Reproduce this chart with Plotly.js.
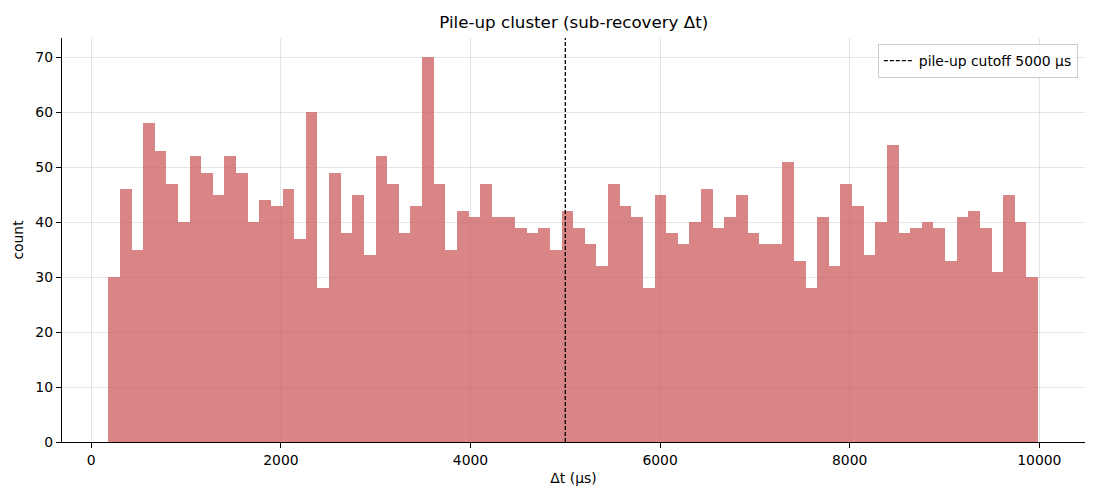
<!DOCTYPE html>
<html>
<head>
<meta charset="utf-8">
<script src="https://cdn.plot.ly/plotly-3.0.1.min.js"></script>
<style>
  html, body { margin: 0; padding: 0; background: #fff; }
  #chart { width: 1100px; height: 500px; }
</style>
</head>
<body>
<div id="chart"></div>
<script>
// Histogram of sub-recovery dt, 80 equal bins
var binStart = 179;       // left edge of first bin (μs)
var binWidth = 122.6;     // bin width (μs)
var counts = [
  30, 46, 35, 58, 53, 47, 40, 52, 49, 45,
  52, 49, 40, 44, 43, 46, 37, 60, 28, 49,
  38, 45, 34, 52, 47, 38, 43, 70, 47, 35,
  42, 41, 47, 41, 41, 39, 38, 39, 35, 42,
  39, 36, 32, 47, 43, 41, 28, 45, 38, 36,
  40, 46, 39, 41, 45, 38, 36, 36, 51, 33,
  28, 41, 32, 47, 43, 34, 40, 54, 38, 39,
  40, 39, 33, 41, 42, 39, 31, 45, 40, 30
];
var cutoff = 5000;
var xTicks = [0, 2000, 4000, 6000, 8000, 10000];
var yTicks = [0, 10, 20, 30, 40, 50, 60, 70];

var centers = counts.map(function(c, i) { return binStart + (i + 0.5) * binWidth; });

var font = 'DejaVu Sans, sans-serif';

var bars = {
  type: 'bar',
  x: centers,
  y: counts,
  width: binWidth,
  marker: { color: 'rgba(205,92,92,0.75)', line: { width: 0 } },
  showlegend: false,
  hoverinfo: 'x+y'
};

var layout = {
  width: 1100,
  height: 500,
  margin: { l: 62, r: 15, t: 38, b: 58 },
  paper_bgcolor: '#fff',
  plot_bgcolor: '#fff',
  font: { family: font, size: 13.9, color: '#000' },
  bargap: 0,
  title: {
    text: 'Pile-up cluster (sub-recovery Δt)',
    font: { family: font, size: 16.7, color: '#000' },
    x: 0.5216, xanchor: 'center',
    y: 0.955, yanchor: 'middle'
  },
  xaxis: {
    range: [-309, 10482],
    tickvals: xTicks,
    ticktext: xTicks.map(String),
    ticks: 'outside', ticklen: 5, tickwidth: 1, tickcolor: '#000',
    showline: true, linecolor: '#000', linewidth: 1.2,
    showgrid: true, gridcolor: 'rgba(0,0,0,0.1)', gridwidth: 1,
    zeroline: false,
    title: { text: 'Δt (μs)', font: { family: font, size: 13.9 }, standoff: 6 }
  },
  yaxis: {
    range: [0, 73.5],
    tickvals: yTicks,
    ticks: 'outside', ticklen: 5, tickwidth: 1, tickcolor: '#000',
    showline: true, linecolor: '#000', linewidth: 1.2,
    showgrid: true, gridcolor: 'rgba(0,0,0,0.1)', gridwidth: 1,
    zeroline: false,
    title: { text: 'count', font: { family: font, size: 13.9 }, standoff: 8 }
  },
  shapes: [{
    type: 'line',
    xref: 'x', yref: 'paper',
    x0: cutoff, x1: cutoff, y0: 0, y1: 1,
    line: { color: '#000', width: 1.3, dash: '4px,2px' },
    showlegend: true,
    name: 'pile-up cutoff ' + cutoff + ' μs'
  }],
  legend: {
    x: 0.993, xanchor: 'right',
    y: 0.985, yanchor: 'top',
    bgcolor: 'rgba(255,255,255,0.8)',
    bordercolor: '#ccc', borderwidth: 1,
    font: { family: font, size: 13.9 }
  }
};

Plotly.newPlot('chart', [bars], layout, { displayModeBar: false, staticPlot: true });
</script>
</body>
</html>
